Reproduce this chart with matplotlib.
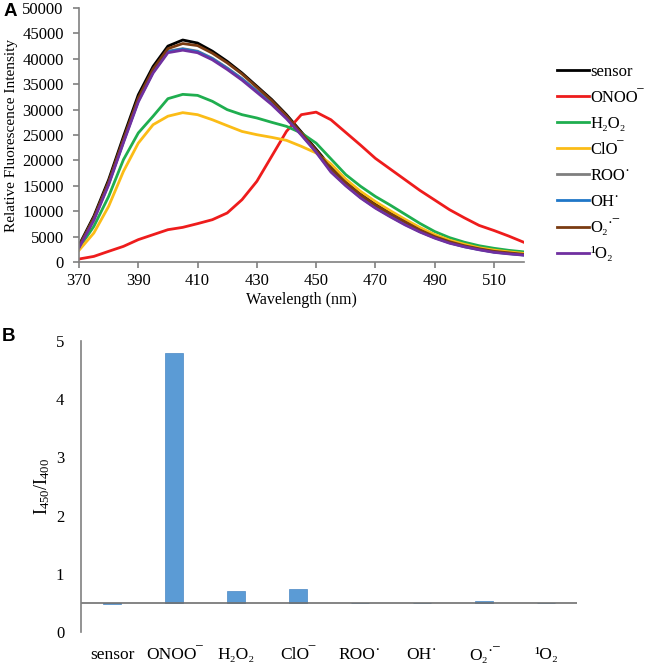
import matplotlib
matplotlib.use("Agg")
import matplotlib.pyplot as plt
import numpy as np

plt.rcParams['font.family'] = ['Liberation Serif', 'DejaVu Serif']
plt.rcParams['mathtext.fontset'] = 'custom'
plt.rcParams['mathtext.rm'] = 'Liberation Serif'
plt.rcParams['mathtext.it'] = 'Liberation Serif:italic'
plt.rcParams['mathtext.bf'] = 'Liberation Serif:bold'

# ---------------- data ----------------
wavelength = [370, 375, 380, 385, 390, 395, 400, 405, 410, 415, 420, 425, 430, 435, 440,
              445, 450, 455, 460, 465, 470, 475, 480, 485, 490, 495, 500, 505, 510, 515, 520]

sensor = [3300, 9000, 16200, 24700, 32900, 38500, 42500, 43700, 43100, 41500, 39500, 37200, 34600, 32000, 29000,
          25600, 22200, 18700, 15800, 13400, 11400, 9700, 8000, 6400, 5000, 4000, 3200, 2600, 2100, 1800, 1500]
onoo = [590, 1100, 2100, 3080, 4400, 5380, 6360, 6820, 7550, 8330, 9650, 12270, 15880, 20800, 25720,
        29000, 29500, 28000, 25500, 23000, 20400, 18300, 16200, 14100, 12200, 10300, 8700, 7200, 6200, 5100, 3900]
h2o2 = [2760, 7000, 12900, 20150, 25400, 28700, 32150, 33000, 32800, 31630, 29990, 29000, 28350, 27500, 26700,
        25400, 23400, 20300, 17200, 14900, 12900, 11200, 9400, 7600, 6000, 4800, 3900, 3200, 2700, 2300, 2000]
clo = [2300, 5700, 10960, 17850, 23400, 27030, 28700, 29400, 29000, 28000, 26840, 25700, 25060, 24540, 23950,
       22770, 21460, 19300, 16300, 13900, 11900, 10100, 8400, 6800, 5400, 4300, 3500, 2800, 2350, 2000, 1700]
roo = [2950, 8500, 15500, 23800, 31800, 37500, 41500, 42000, 41500, 40100, 38200, 36100, 33700, 31300, 28500,
       25200, 21800, 18000, 15200, 12800, 10800, 9100, 7500, 6000, 4800, 3800, 3100, 2500, 2000, 1700, 1400]
oh = [2900, 8400, 15400, 23700, 31700, 37400, 41400, 41900, 41400, 40000, 38100, 36000, 33600, 31200, 28400,
      25100, 21700, 17900, 15100, 12700, 10700, 9000, 7400, 6000, 4800, 3800, 3000, 2450, 1950, 1650, 1380]
o2 = [3100, 8700, 15800, 24200, 32300, 38000, 42000, 43000, 42600, 41100, 39200, 37000, 34400, 31800, 28800,
      25400, 22000, 18400, 15600, 13200, 11200, 9500, 7900, 6300, 5000, 4000, 3200, 2600, 2100, 1800, 1500]
singlet = [2800, 8200, 15200, 23500, 31500, 37200, 41200, 41700, 41200, 39800, 37900, 35800, 33400, 31000, 28200,
           25000, 21600, 17700, 15000, 12600, 10600, 8900, 7300, 5900, 4700, 3700, 3000, 2400, 1900, 1600, 1350]

species = ['sensor', 'ONOO\u203e', 'H\u2082O\u2082', 'ClO\u203e', 'ROO\u02d9',
           'OH\u02d9', 'O\u2082\u02d9\u203e', '\u00b9O\u2082']
colors = ['#000000', '#ee1c1c', '#1fae4f', '#fbbc16', '#7f7f7f', '#1f77c8', '#7a3b12', '#7030a0']

ratio = [0.48, 4.79, 0.70, 0.74, 0.505, 0.505, 0.53, 0.505]
baseline = 0.5

# ---------------- figure ----------------
fig = plt.figure(figsize=(6.53, 6.63), dpi=100)
axis_gray = '#808080'

# Panel A
axA = fig.add_axes([79/653, 1 - 262/663, 444.6/653, 254/663])
series = [sensor, onoo, h2o2, clo, roo, oh, o2, singlet]
for s, lab, c in zip(series, species, colors):
    axA.plot(wavelength, s, color=c, lw=2.0, label=lab)
axA.set_xlim(370, 520)
axA.set_ylim(0, 50000)
axA.set_xticks(np.arange(370, 520, 20))
axA.set_yticks(np.arange(0, 50001, 5000))
for sp in ['top', 'right']:
    axA.spines[sp].set_visible(False)
for sp in ['left', 'bottom']:
    axA.spines[sp].set_color(axis_gray)
    axA.spines[sp].set_linewidth(1.2)
axA.tick_params(axis='both', direction='out', length=4, width=1.2, color=axis_gray,
                labelsize=12, pad=4)
axA.tick_params(axis='y', pad=7)
axA.set_xlabel('Wavelength (nm)', fontsize=11.5, labelpad=2)
axA.set_ylabel('Relative Fluorescence Intensity', fontsize=11, labelpad=3)
leg = axA.legend(loc='center left', bbox_to_anchor=(1.075, 0.39), frameon=False,
                 fontsize=12, handlelength=1.9, handletextpad=0.1,
                 labelspacing=0.6, borderpad=0, borderaxespad=0)
fig.text(0.006, 0.995, 'A', fontsize=13.5, fontweight='bold', family='Liberation Sans', va='top')

# Panel B
axB = fig.add_axes([81/653, 1 - 632/663, 496/653, 291/663])
x = np.arange(len(species))
heights = [r - baseline for r in ratio]
axB.bar(x, heights, bottom=baseline, width=0.3, color='#5b9bd5', edgecolor='#4a88c4', linewidth=0.5)
axB.axhline(baseline, color='#6f6f6f', lw=1.2)
axB.set_xlim(-0.5, len(species) - 0.5)
axB.set_ylim(0, 5)
axB.set_yticks(np.arange(0, 6, 1))
axB.set_xticks(x)
axB.set_xticklabels(species)
for sp in ['top', 'right', 'bottom']:
    axB.spines[sp].set_visible(False)
axB.spines['left'].set_color(axis_gray)
axB.spines['left'].set_linewidth(1.2)
axB.tick_params(axis='y', length=0, labelsize=12, pad=12)
axB.tick_params(axis='x', length=0, labelsize=12.5, pad=11)
axB.set_ylabel('I$_{\\mathit{450}}$/I$_{\\mathit{400}}$', fontsize=13, labelpad=3)
fig.text(0.002, 1 - 328/663, 'B', fontsize=13.5, fontweight='bold', family='Liberation Sans', va='top')

fig.savefig('out.png', dpi=100)
